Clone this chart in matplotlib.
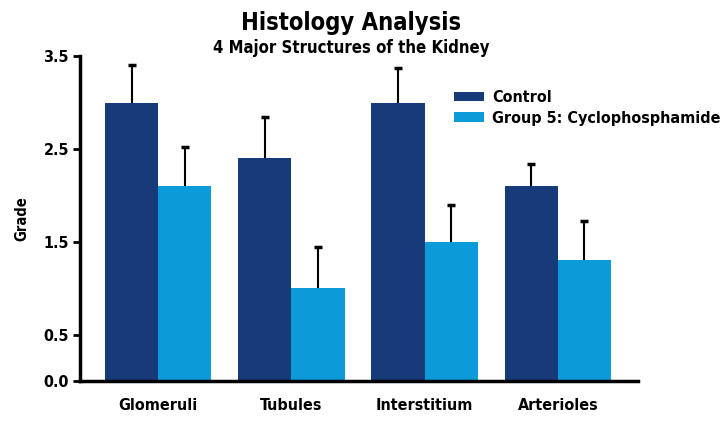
import numpy as np
import matplotlib.pyplot as plt

# data
categories = ['Glomeruli', 'Tubules', 'Interstitium', 'Arterioles']
control = [3.0, 2.4, 3.0, 2.1]
control_err = [0.4, 0.44, 0.37, 0.24]
group5 = [2.1, 1.0, 1.5, 1.3]
group5_err = [0.42, 0.44, 0.4, 0.42]
y_ticks = [0.0, 0.5, 1.5, 2.5, 3.5]

plt.rcParams['font.family'] = ['DejaVu Sans']
plt.rcParams['font.stretch'] = 'condensed'
plt.rcParams['font.weight'] = 'bold'

fig = plt.figure(figsize=(7.28, 4.29), dpi=100, facecolor='white')
ax = fig.add_axes([0.110, 0.112, 0.766, 0.757])
ax.set_facecolor('none')

x = np.arange(len(categories))
w = 0.4
ax.bar(x - w / 2, control, w, color='#173a78', label='Control', zorder=2)
ax.bar(x + w / 2, group5, w, color='#0b9bd9', label='Group 5: Cyclophosphamide', zorder=2)

# upper error bars only (no cap at the bar top)
for xs, vals, errs in [(x - w / 2, control, control_err), (x + w / 2, group5, group5_err)]:
    tops = np.array(vals) + np.array(errs)
    ax.vlines(xs, vals, tops, color='black', linewidth=1.5, zorder=3)
    ax.plot(xs, tops, linestyle='none', marker='_', markersize=6,
            markeredgewidth=2.5, color='black', zorder=3)

ax.set_xlim(-0.586, 3.6)
ax.set_ylim(0, 3.5)
ax.set_yticks(y_ticks)
ax.set_yticklabels([f'{t:.1f}' for t in y_ticks], fontsize=11.5, fontweight='bold')
ax.set_xticks(x)
ax.set_xticklabels(categories, fontsize=11.5, fontweight='bold')
ax.tick_params(axis='x', length=0, pad=12)
ax.tick_params(axis='y', length=5, width=2, pad=3, direction='out')

for side in ['top', 'right']:
    ax.spines[side].set_visible(False)
for side in ['left', 'bottom']:
    ax.spines[side].set_linewidth(2.5)

ax.set_ylabel('Grade', fontsize=10.5, fontweight='bold', labelpad=10)

fig.text(0.482, 0.947, 'Histology Analysis', ha='center', va='center',
         fontsize=17, fontweight='bold')
fig.text(0.483, 0.888, '4 Major Structures of the Kidney', ha='center', va='center',
         fontsize=12, fontweight='bold')

ax.legend(loc='upper left', bbox_to_anchor=(0.645, 0.94), frameon=False,
          handlelength=1.9, handleheight=0.55, handletextpad=0.5,
          labelspacing=0.35, prop={'weight': 'bold', 'size': 11.5, 'stretch': 'condensed'})

plt.savefig('out.png', dpi=100, facecolor='white')
plt.close()
